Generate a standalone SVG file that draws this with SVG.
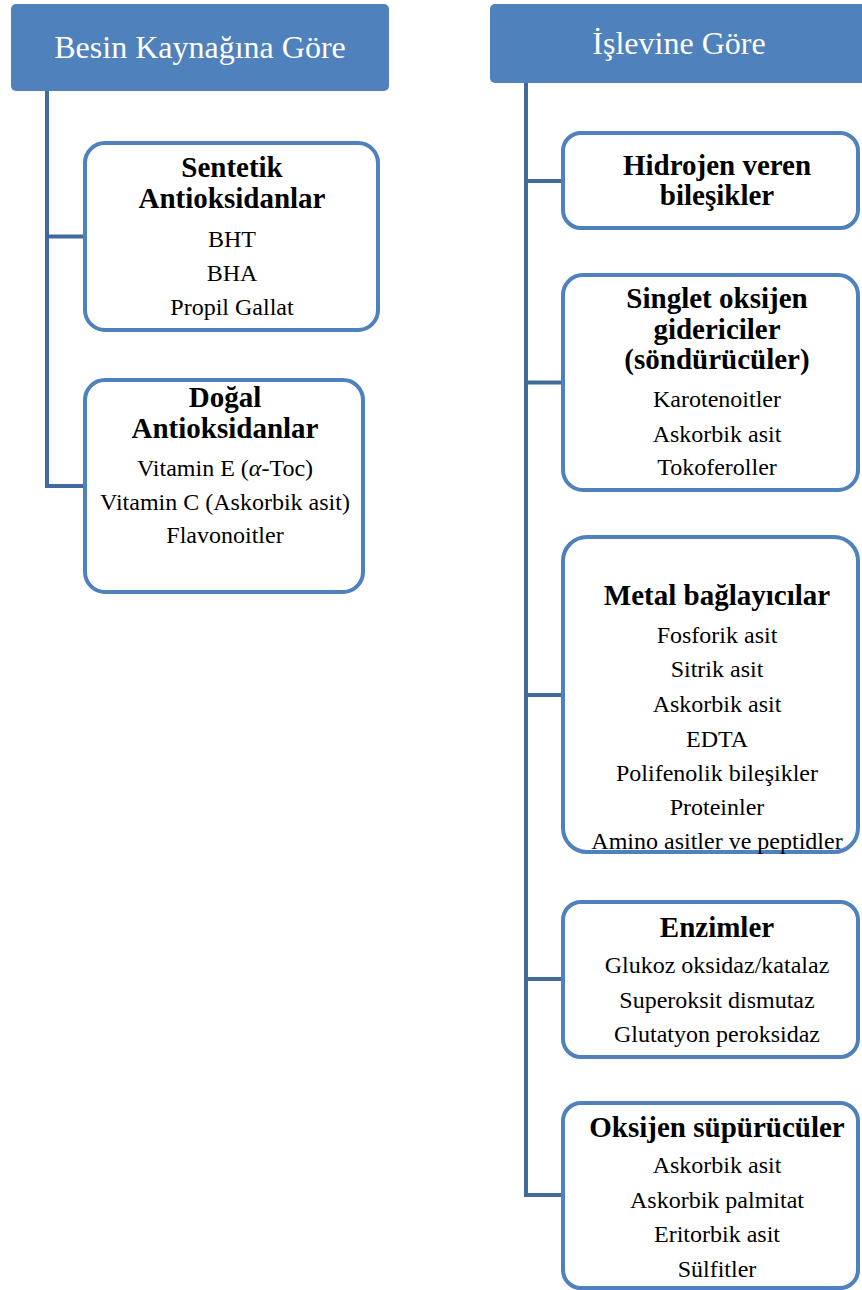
<svg xmlns="http://www.w3.org/2000/svg" width="862" height="1290" viewBox="0 0 862 1290">
  <style>
    .hdr { fill: #4F81BD; }
    .hdr-t { font-family: "Liberation Serif", "Times New Roman", serif; font-size: 32px; fill: #FFFFFF; text-anchor: middle; }
    .box { fill: #FFFFFF; stroke: #4F81BD; stroke-width: 4; }
    .ttl { font-family: "Liberation Serif", "Times New Roman", serif; font-size: 29px; font-weight: bold; fill: #000000; text-anchor: middle; }
    .itm { font-family: "Liberation Serif", "Times New Roman", serif; font-size: 24px; fill: #000000; text-anchor: middle; }
    .conn { fill: none; stroke: #41699C; stroke-width: 4; stroke-linejoin: miter; }
  </style>

  <!-- tree connectors -->
  <g id="connectors">
    <path class="conn" d="M47,91 V486 H85"/>
    <path class="conn" d="M47,236.5 H85"/>
    <path class="conn" d="M526,83 V1195 H563"/>
    <path class="conn" d="M526,181 H563"/>
    <path class="conn" d="M526,382.5 H563"/>
    <path class="conn" d="M526,695 H563"/>
    <path class="conn" d="M526,979 H563"/>
  </g>

  <!-- left column -->
  <g id="hdr-besin">
    <rect class="hdr" x="11" y="4" width="378" height="87" rx="5"/>
    <text class="hdr-t" x="200" y="58">Besin Kaynağına Göre</text>
  </g>

  <g id="sentetik">
    <rect class="box" x="85" y="143" width="293" height="187" rx="20"/>
    <text class="ttl" x="232" y="177">Sentetik</text>
    <text class="ttl" x="232" y="208">Antioksidanlar</text>
    <text class="itm" x="232" y="247">BHT</text>
    <text class="itm" x="232" y="281">BHA</text>
    <text class="itm" x="232" y="315">Propil Gallat</text>
  </g>

  <g id="dogal">
    <rect class="box" x="85" y="380" width="278" height="212" rx="20"/>
    <text class="ttl" x="225" y="407">Doğal</text>
    <text class="ttl" x="225" y="438">Antioksidanlar</text>
    <text class="itm" x="225" y="476">Vitamin E (<tspan font-style="italic">α</tspan>-Toc)</text>
    <text class="itm" x="225" y="510">Vitamin C (Askorbik asit)</text>
    <text class="itm" x="225" y="543">Flavonoitler</text>
  </g>

  <!-- right column -->
  <g id="hdr-islev">
    <rect class="hdr" x="490" y="4" width="380" height="79" rx="5"/>
    <text class="hdr-t" x="679" y="54">İşlevine Göre</text>
  </g>

  <g id="hidrojen">
    <rect class="box" x="563" y="133" width="295" height="95" rx="18"/>
    <text class="ttl" x="717" y="175">Hidrojen veren</text>
    <text class="ttl" x="717" y="205">bileşikler</text>
  </g>

  <g id="singlet">
    <rect class="box" x="563" y="275" width="295" height="215" rx="20"/>
    <text class="ttl" x="717" y="308">Singlet oksijen</text>
    <text class="ttl" x="717" y="339">gidericiler</text>
    <text class="ttl" x="717" y="369">(söndürücüler)</text>
    <text class="itm" x="717" y="407">Karotenoitler</text>
    <text class="itm" x="717" y="442">Askorbik asit</text>
    <text class="itm" x="717" y="475">Tokoferoller</text>
  </g>

  <g id="metal">
    <rect class="box" x="563" y="537" width="295" height="315" rx="24"/>
    <text class="ttl" x="717" y="605">Metal bağlayıcılar</text>
    <text class="itm" x="717" y="643">Fosforik asit</text>
    <text class="itm" x="717" y="677">Sitrik asit</text>
    <text class="itm" x="717" y="712">Askorbik asit</text>
    <text class="itm" x="717" y="747">EDTA</text>
    <text class="itm" x="717" y="781">Polifenolik bileşikler</text>
    <text class="itm" x="717" y="815">Proteinler</text>
    <text class="itm" x="717" y="849">Amino asitler ve peptidler</text>
  </g>

  <g id="enzimler">
    <rect class="box" x="563" y="902" width="295" height="155" rx="18"/>
    <text class="ttl" x="717" y="937">Enzimler</text>
    <text class="itm" x="717" y="973">Glukoz oksidaz/katalaz</text>
    <text class="itm" x="717" y="1008">Superoksit dismutaz</text>
    <text class="itm" x="717" y="1042">Glutatyon peroksidaz</text>
  </g>

  <g id="oksijen">
    <rect class="box" x="563" y="1103" width="295" height="185" rx="18"/>
    <text class="ttl" x="717" y="1137">Oksijen süpürücüler</text>
    <text class="itm" x="717" y="1173">Askorbik asit</text>
    <text class="itm" x="717" y="1208">Askorbik palmitat</text>
    <text class="itm" x="717" y="1242">Eritorbik asit</text>
    <text class="itm" x="717" y="1277">Sülfitler</text>
  </g>
</svg>
